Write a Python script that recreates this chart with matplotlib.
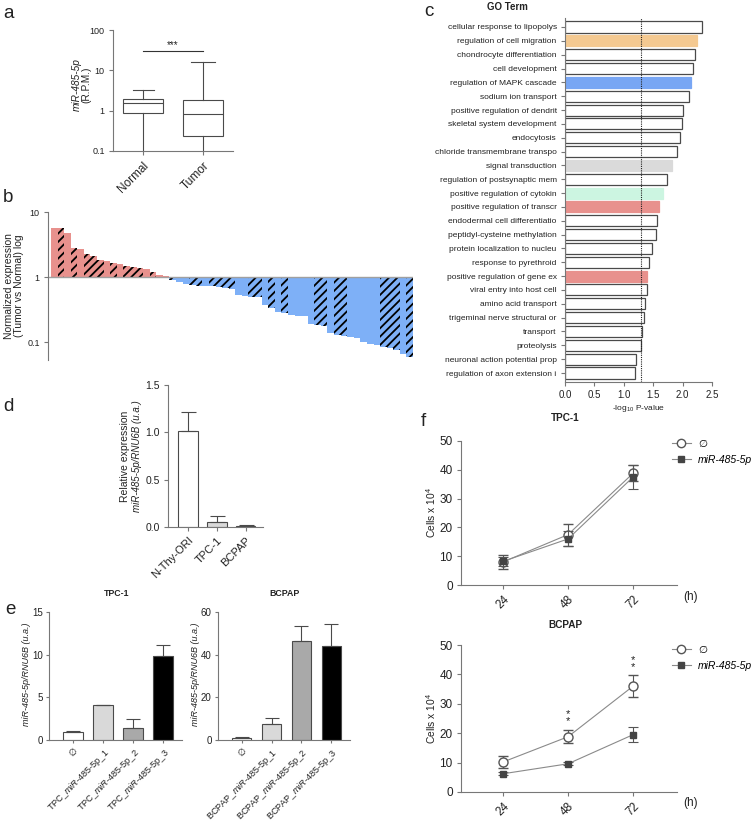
import matplotlib
matplotlib.use("Agg")
import matplotlib.pyplot as plt
import numpy as np
from matplotlib.lines import Line2D
from matplotlib.ticker import NullLocator

# ---------------- data ----------------
# panel a (box plot stats, R.P.M.)
a_groups = ["Normal", "Tumor"]
a_whislo = [0.05, 0.05]
a_q1 = [0.9, 0.24]
a_med = [1.55, 0.85]
a_q3 = [2.0, 1.8]
a_whishi = [3.2, 16.0]

# panel b (Tumor vs Normal fold change, log)
b_up_values = [5.7, 5.7, 4.8, 2.8, 2.7, 2.3, 2.1, 1.8, 1.74, 1.66, 1.6, 1.46,
               1.41, 1.37, 1.31, 1.19, 1.06, 1.04]
b_up_hatched = [0, 1, 0, 1, 0, 1, 1, 1, 0, 1, 0, 1, 1, 1, 0, 1, 0, 0]
b_down_values = [0.91, 0.84, 0.79, 0.76, 0.74, 0.73, 0.72, 0.70, 0.69, 0.66,
                 0.53, 0.52, 0.50, 0.49, 0.37, 0.33, 0.29, 0.28, 0.26, 0.255,
                 0.25, 0.19, 0.18, 0.176, 0.137, 0.13, 0.126, 0.12, 0.117, 0.10,
                 0.095, 0.09, 0.085, 0.08, 0.075, 0.065, 0.058]
b_down_hatched = [1, 0, 0, 1, 1, 0, 1, 1, 1, 1, 0, 0, 1, 1, 0, 1, 0, 1, 0, 0,
                  0, 0, 1, 1, 0, 1, 1, 0, 0, 0, 0, 0, 1, 1, 1, 0, 1]

# panel c (GO terms)
go_terms = ["cellular response to lipopolys", "regulation of cell migration",
            "chondrocyte differentiation", "cell development",
            "regulation of MAPK cascade", "sodium ion transport",
            "positive regulation of dendrit", "skeletal system development",
            "endocytosis", "chloride transmembrane transpo",
            "signal transduction", "regulation of postsynaptic mem",
            "positive regulation of cytokin", "positive regulation of transcr",
            "endodermal cell differentiatio", "peptidyl-cysteine methylation",
            "protein localization to nucleu", "response to pyrethroid",
            "positive regulation of gene ex", "viral entry into host cell",
            "amino acid transport", "trigeminal nerve structural or",
            "transport", "proteolysis", "neuronal action potential prop",
            "regulation of axon extension i"]
go_values = [2.33, 2.25, 2.21, 2.18, 2.15, 2.11, 2.00, 1.99, 1.96, 1.91, 1.82,
             1.74, 1.67, 1.60, 1.57, 1.55, 1.48, 1.43, 1.40, 1.39, 1.36, 1.34,
             1.31, 1.30, 1.20, 1.19]
go_threshold = 1.301
go_highlight = {"regulation of cell migration": "#F4C991",
                "regulation of MAPK cascade": "#78A6F4",
                "signal transduction": "#DADADA",
                "positive regulation of cytokin": "#CCF5E1",
                "positive regulation of transcr": "#E8918D",
                "positive regulation of gene ex": "#E8918D"}

# panel d
d_labels = ["N-Thy-ORI", "TPC-1", "BCPAP"]
d_means = [1.01, 0.05, 0.01]
d_err = [0.20, 0.07, 0.008]

# panel e
e_tpc_labels = ["\u2205", r"TPC_$\mathit{miR}$-485-5p_1",
                r"TPC_$\mathit{miR}$-485-5p_2", r"TPC_$\mathit{miR}$-485-5p_3"]
e_tpc_means = [0.9, 4.05, 1.4, 9.9]
e_tpc_err = [0.15, 0.08, 1.05, 1.2]
e_bc_labels = ["\u2205", r"BCPAP_$\mathit{miR}$-485-5p_1",
               r"BCPAP_$\mathit{miR}$-485-5p_2", r"BCPAP_$\mathit{miR}$-485-5p_3"]
e_bc_means = [0.9, 7.7, 46.5, 44.0]
e_bc_err = [0.3, 2.8, 6.8, 10.2]

# panel f
f_hours = [24, 48, 72]
f_tpc_ctrl = [8.0, 17.5, 38.8]
f_tpc_ctrl_err = [2.5, 3.8, 2.7]
f_tpc_mir = [8.2, 16.0, 37.5]
f_tpc_mir_err = [1.5, 2.6, 4.0]
f_bc_ctrl = [10.2, 18.8, 36.0]
f_bc_ctrl_err = [2.0, 2.2, 3.8]
f_bc_mir = [6.2, 9.6, 19.5]
f_bc_mir_err = [0.5, 0.5, 2.5]
f_bc_sig_hours = [48, 72]
f_bc_sig_y = [25.4, 43.8]

# ---------------- style ----------------
plt.rcParams['font.family'] = ['Liberation Sans', 'DejaVu Sans']
plt.rcParams['mathtext.fontset'] = 'custom'
plt.rcParams['mathtext.rm'] = 'Liberation Sans'
plt.rcParams['mathtext.it'] = 'Liberation Sans:italic'
plt.rcParams['mathtext.bf'] = 'Liberation Sans:bold'
plt.rcParams['hatch.linewidth'] = 1.3
plt.rcParams['axes.linewidth'] = 0.8

W, H = 754, 826
fig = plt.figure(figsize=(W / 100, H / 100), dpi=100)

SPINE = '#777777'
TXT = '#222222'
EDGE = '#4a4a4a'


def add_ax(x0, y0, x1, y1):
    return fig.add_axes([x0 / W, 1 - y1 / H, (x1 - x0) / W, (y1 - y0) / H])


def style(ax, fs, length=3, pad=3):
    for s in ['top', 'right']:
        ax.spines[s].set_visible(False)
    for s in ['left', 'bottom']:
        ax.spines[s].set_color(SPINE)
    ax.tick_params(colors=SPINE, labelcolor=TXT, labelsize=fs, length=length,
                   width=0.8, pad=pad)


def ftext(x, y, s, **kw):
    fig.text(x / W, 1 - y / H, s, **kw)


# panel letters
for lab, (x, y) in {"a": (3, 13), "b": (3, 198), "c": (424, 12), "d": (3, 407),
                    "e": (5, 610), "f": (421, 422)}.items():
    ftext(x, y, lab, fontsize=13.5, ha='left', va='center', color=TXT)

# ---------------- panel a ----------------
ax = add_ax(113, 30, 233, 151)
style(ax, 6.5)
stats = [dict(label=g, whislo=lo, q1=q1, med=m, q3=q3, whishi=hi)
         for g, lo, q1, m, q3, hi in zip(a_groups, a_whislo, a_q1, a_med, a_q3, a_whishi)]
lp = dict(color=EDGE, linewidth=0.8)
ax.bxp(stats, positions=[1, 2], widths=0.667, capwidths=[0.35, 0.39],
       showfliers=False, patch_artist=True,
       boxprops=dict(facecolor='white', edgecolor=EDGE, linewidth=0.8),
       whiskerprops=lp, capprops=lp, medianprops=lp)
ax.set_yscale('log')
ax.set_ylim(0.1, 100)
ax.set_xlim(0.5, 2.5)
ax.set_yticks([0.1, 1, 10, 100])
ax.set_yticklabels(['0.1', '1', '10', '100'])
ax.yaxis.set_minor_locator(NullLocator())
ax.set_xticks([1, 2])
ax.set_xticklabels(a_groups, rotation=45, ha='right', rotation_mode='anchor', fontsize=8.5)
ax.plot([1, 2], [31, 31], color='#333333', lw=0.8, clip_on=False)
ax.text(1.5, 43, '***', ha='center', va='center', fontsize=7, color=TXT)
ax.text(-0.30, 0.545, 'miR-485-5p', style='italic', rotation=90, ha='center', va='center',
        transform=ax.transAxes, fontsize=7.3, color=TXT)
ax.text(-0.225, 0.545, '(R.P.M.)', rotation=90, ha='center', va='center',
        transform=ax.transAxes, fontsize=7.3, color=TXT)

# ---------------- panel b ----------------
ax = add_ax(48, 212, 413, 360)
style(ax, 6.5)
vals = np.array(b_up_values + b_down_values)
hat = np.array(b_up_hatched + b_down_hatched, dtype=bool)
cols = np.array(['#E8918D'] * len(b_up_values) + ['#7EB0F7'] * len(b_down_values))
xb = np.arange(len(vals))
ax.bar(xb[~hat], vals[~hat] - 1, bottom=1, width=1.0, color=cols[~hat], linewidth=0)
ax.bar(xb[hat], vals[hat] - 1, bottom=1, width=1.0, color=cols[hat], edgecolor='black',
       linewidth=0, hatch='////')
ax.set_yscale('log')
ax.set_ylim(0.053, 10)
ax.set_xlim(-0.956, len(vals) - 0.5)
ax.set_yticks([0.1, 1, 10])
ax.set_yticklabels(['0.1', '1', '10'])
ax.yaxis.set_minor_locator(NullLocator())
ax.spines['bottom'].set_visible(False)
ax.set_xticks([])
ax.axhline(1, color='#a0a0a0', lw=1.0)
ax.set_ylabel("Normalized expression\n(Tumor vs Normal) log", fontsize=7.5, color=TXT,
              linespacing=1.05)
ax.yaxis.set_label_coords(-0.066, 0.5)

# ---------------- panel c ----------------
ax = add_ax(565, 18, 712, 382)
style(ax, 7)
yc = np.arange(len(go_terms))
face = [go_highlight.get(t, 'white') for t in go_terms]
edge = [go_highlight.get(t, EDGE) for t in go_terms]
ax.barh(yc, go_values, height=0.8, color=face, edgecolor=edge, linewidth=0.9)
ax.axvline(go_threshold, color='#222222', ls=(0, (1, 1)), lw=0.8)
ax.set_ylim(len(go_terms) - 0.35, -0.65)
ax.set_xlim(0, 2.5)
ax.set_yticks(yc)
ax.set_yticklabels(go_terms, fontsize=6)
ax.set_xticks([0, 0.5, 1.0, 1.5, 2.0, 2.5])
ax.set_xticklabels(['0.0', '0.5', '1.0', '1.5', '2.0', '2.5'])
ax.set_xlabel('-log$_{10}$ P-value', fontsize=6, color=TXT, labelpad=2)
ftext(507, 7, 'GO Term', fontsize=7, fontweight='bold', ha='center', va='center', color=TXT)

# ---------------- panel d ----------------
ax = add_ax(168, 385, 263, 527)
style(ax, 7.5)
xd = np.arange(len(d_labels))
ax.bar(xd, d_means, width=0.66, color=['white', '#d9d9d9', '#a9a9a9'], edgecolor=EDGE,
       linewidth=0.8)
ax.errorbar(xd, d_means, yerr=[np.zeros(len(d_means)), d_err], fmt='none', ecolor=EDGE,
            elinewidth=0.8, capsize=5.4, capthick=0.8)
ax.set_ylim(0, 1.5)
ax.set_xlim(-0.69, 2.59)
ax.set_yticks([0, 0.5, 1.0, 1.5])
ax.set_yticklabels(['0.0', '0.5', '1.0', '1.5'])
ax.set_xticks(xd)
ax.set_xticklabels(d_labels, rotation=45, ha='right', rotation_mode='anchor', fontsize=8)
ax.text(-0.453, 0.5, 'Relative expression', rotation=90, ha='center', va='center',
        transform=ax.transAxes, fontsize=7.5, color=TXT)
ax.text(-0.33, 0.5, 'miR-485-5p/RNU6B (u.a.)', rotation=90, ha='center', va='center',
        style='italic', transform=ax.transAxes, fontsize=7, color=TXT)

# ---------------- panel e ----------------
e_colors = ['white', '#d9d9d9', '#a9a9a9', 'black']
for (x0, x1), labels, means, err, ymax, step, title, tx in [
        ((49, 182), e_tpc_labels, e_tpc_means, e_tpc_err, 15, 5, 'TPC-1', 117),
        ((218, 350), e_bc_labels, e_bc_means, e_bc_err, 60, 20, 'BCPAP', 285)]:
    ax = add_ax(x0, 612, x1, 740)
    style(ax, 7, length=2.5, pad=2)
    xe = np.arange(len(means))
    ax.bar(xe, means, width=0.64, color=e_colors, edgecolor=EDGE, linewidth=0.8)
    ax.errorbar(xe, means, yerr=[np.zeros(len(means)), err], fmt='none', ecolor=EDGE,
                elinewidth=0.8, capsize=5, capthick=0.8)
    ax.set_ylim(0, ymax)
    ax.set_xlim(-0.8, 3.63)
    ax.set_yticks(np.arange(0, ymax + 1, step))
    ax.set_xticks(xe)
    ax.set_xticklabels(labels, rotation=45, ha='right', rotation_mode='anchor', fontsize=6.6)
    ax.set_ylabel('miR-485-5p/RNU6B (u.a.)', style='italic', fontsize=6.5, color=TXT)
    ax.yaxis.set_label_coords(-0.135, 0.51)
    ftext(tx, 594, title, fontsize=6.3, fontweight='bold', ha='center', va='center', color=TXT)

# ---------------- panel f ----------------
LINE = '#8a8a8a'
for (y0, y1), ctrl, ctrl_err, mir, mir_err, title, ty, leg_y, h_y, sig_x, sig_y in [
        ((441, 585), f_tpc_ctrl, f_tpc_ctrl_err, f_tpc_mir, f_tpc_mir_err, 'TPC-1', 418, 439, 597,
         [], []),
        ((645, 792), f_bc_ctrl, f_bc_ctrl_err, f_bc_mir, f_bc_mir_err, 'BCPAP', 625, 645, 803,
         f_bc_sig_hours, f_bc_sig_y)]:
    ax = add_ax(461, y0, 677, y1)
    style(ax, 8.5)
    ax.errorbar(f_hours, ctrl, yerr=ctrl_err, color=LINE, lw=0.8, ecolor='#555555',
                elinewidth=0.8, capsize=3.5, capthick=0.8, marker='o', ms=6.5,
                mfc='white', mec='#555555', mew=1.0, zorder=3)
    ax.errorbar(f_hours, mir, yerr=mir_err, color=LINE, lw=0.8, ecolor='#555555',
                elinewidth=0.8, capsize=3.5, capthick=0.8, marker='s', ms=5,
                mfc='#444444', mec='#444444', zorder=4)
    for sx, sy in zip(sig_x, sig_y):
        ax.text(sx, sy, '*\n*', ha='center', va='center', fontsize=8, color=TXT,
                linespacing=0.65)
    ax.set_xlim(8.5, 88.2)
    ax.set_ylim(0, 50)
    ax.set_yticks([0, 10, 20, 30, 40, 50])
    ax.set_xticks(f_hours)
    ax.set_xticklabels([str(h) for h in f_hours], rotation=45, ha='right',
                       rotation_mode='anchor', fontsize=8.5)
    ax.set_ylabel('Cells x 10$^4$', fontsize=7.4, color=TXT)
    ax.yaxis.set_label_coords(-0.105, 0.5)
    ftext(565, ty, title, fontsize=7.2, fontweight='bold', ha='center', va='center', color=TXT)
    ftext(683, h_y, '(h)', fontsize=8.5, ha='left', va='center', color=TXT)
    handles = [Line2D([], [], color=LINE, lw=0.8, marker='o', ms=6, mfc='white',
                      mec='#555555', mew=1.0),
               Line2D([], [], color=LINE, lw=0.8, marker='s', ms=5, mfc='#444444',
                      mec='#444444')]
    ax.legend(handles, ['\u2205', 'miR-485-5p'], loc='upper left',
              bbox_to_anchor=(672 / W, 1 - leg_y / H), bbox_transform=fig.transFigure,
              frameon=False, prop=dict(style='italic', size=7.5), handlelength=1.8,
              handletextpad=0.7, labelspacing=0.55, borderpad=0, borderaxespad=0)

fig.savefig('out.png', dpi=100)
